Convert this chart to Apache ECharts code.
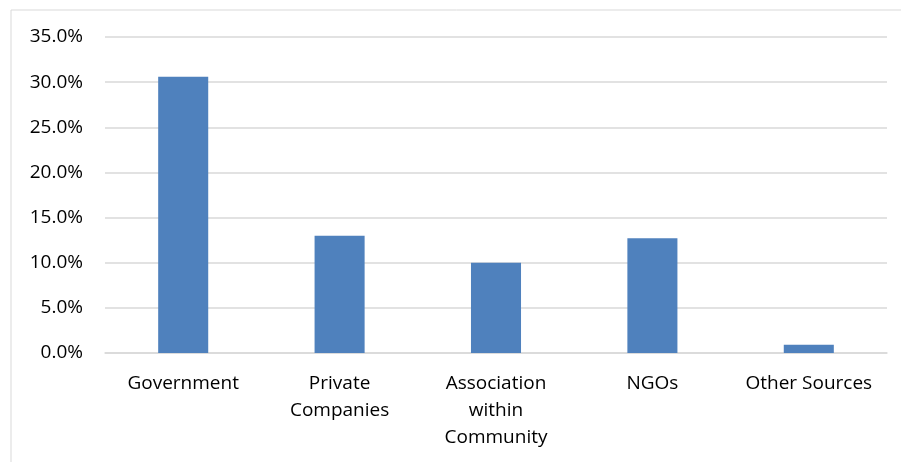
<!DOCTYPE html>
<html>
<head>
<meta charset="utf-8">
<script src="https://cdn.jsdelivr.net/npm/echarts@6/dist/echarts.min.js"></script>
<style>
  html, body { margin: 0; padding: 0; background: #fff; }
  #container { width: 901px; height: 462px; }
</style>
</head>
<body>
<div id="container"></div>
<script>
let chart = echarts.init(document.getElementById('container'));

// funding sources (share of respondents, %)
var categories = ['Government', 'Private\nCompanies', 'Association\nwithin\nCommunity', 'NGOs', 'Other Sources'];
var shares = [30.6, 13.0, 10.0, 12.7, 0.9];
var yTicks = [0, 5, 10, 15, 20, 25, 30, 35];

var font = '"Open Sans", "Liberation Sans", sans-serif';

var option = {
    animation: false,
    graphic: [{
        type: 'rect',
        shape: { x: 11, y: 10, width: 900, height: 460 },
        style: { fill: 'none', stroke: '#d9d9d9', lineWidth: 1 },
        silent: true,
    }],
    grid: {
        left: 105,
        right: 14,
        top: 37,
        bottom: 109,
    },
    xAxis: {
        type: 'category',
        data: categories,
        axisTick: { show: false },
        axisLine: {
            lineStyle: { color: '#d9d9d9', width: 1.5 },
        },
        axisLabel: {
            interval: 0,
            margin: 17,
            color: '#000',
            fontFamily: font,
            fontSize: 19,
            lineHeight: 27,
        },
    },
    yAxis: {
        type: 'value',
        min: yTicks[0],
        max: yTicks[yTicks.length - 1],
        interval: 5,
        axisLine: { show: false },
        axisTick: { show: false },
        splitLine: {
            lineStyle: { color: '#d9d9d9', width: 1.5 },
        },
        axisLabel: {
            margin: 22,
            color: '#000',
            fontFamily: font,
            fontSize: 19,
            formatter: function (value) {
                return value.toFixed(1) + '%';
            },
        },
    },
    series: [{
        type: 'bar',
        data: shares,
        barWidth: '32%',
        itemStyle: { color: '#4f81bd' },
    }],
};
chart.setOption(option);
</script>
</body>
</html>
